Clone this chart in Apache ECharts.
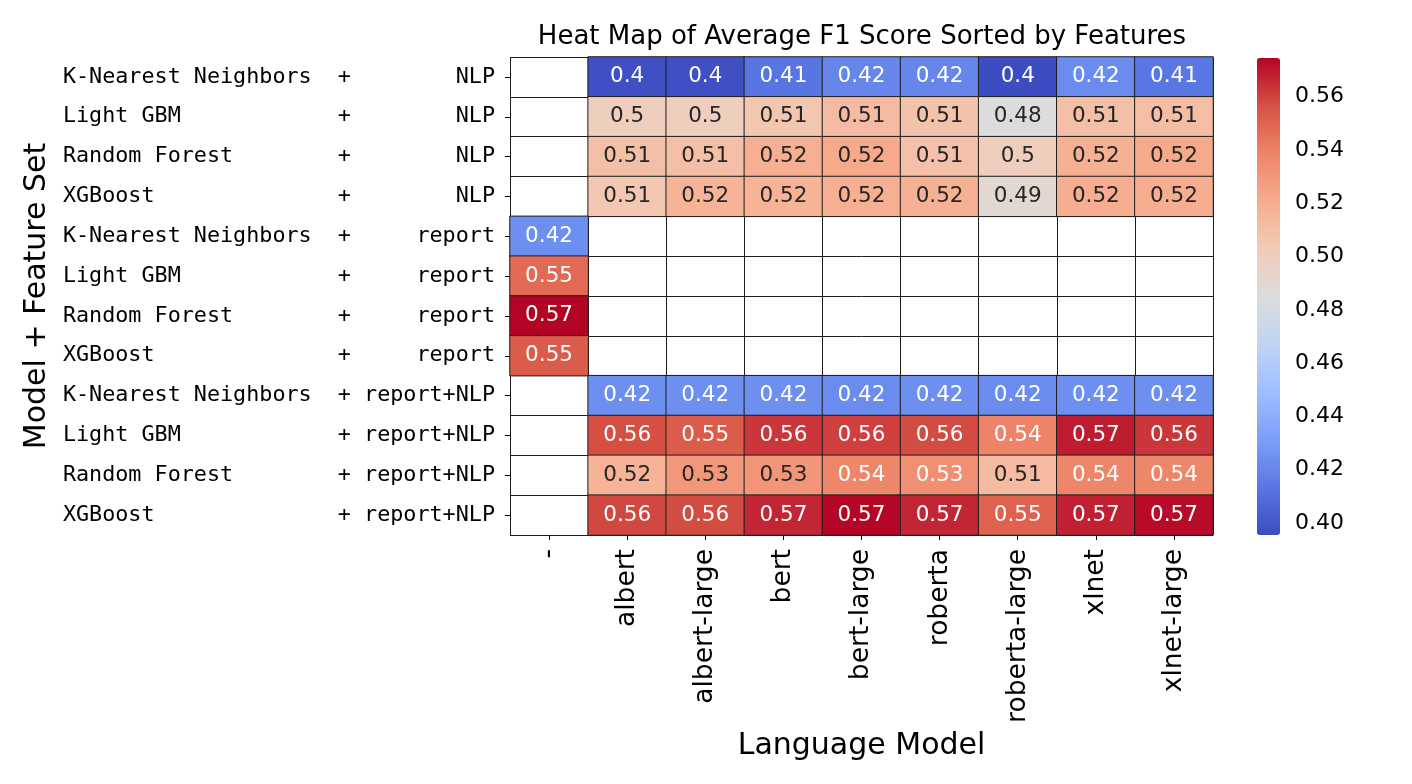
<!DOCTYPE html>
<html>
<head>
<meta charset="utf-8">
<script src="https://cdn.jsdelivr.net/npm/echarts@6/dist/echarts.min.js"></script>
<style>
  html, body { margin: 0; padding: 0; background: #ffffff; }
  #chart { width: 1412px; height: 784px; }
</style>
</head>
<body>
<div id="chart"></div>
<script>
// ---------------- data ----------------
const languageModels = ['-', 'albert', 'albert-large', 'bert', 'bert-large', 'roberta', 'roberta-large', 'xlnet', 'xlnet-large'];
const modelNames = ['K-Nearest Neighbors', 'Light GBM', 'Random Forest', 'XGBoost',
                    'K-Nearest Neighbors', 'Light GBM', 'Random Forest', 'XGBoost',
                    'K-Nearest Neighbors', 'Light GBM', 'Random Forest', 'XGBoost'];
const featureSets = ['NLP', 'NLP', 'NLP', 'NLP',
                     'report', 'report', 'report', 'report',
                     'report+NLP', 'report+NLP', 'report+NLP', 'report+NLP'];

// values per row, in languageModels order (null = no value)
const knnNLP        = [null, 0.397, 0.397, 0.413, 0.420, 0.420, 0.396, 0.423, 0.414];
const lgbmNLP       = [null, 0.500, 0.500, 0.506, 0.512, 0.508, 0.485, 0.510, 0.511];
const rfNLP         = [null, 0.510, 0.510, 0.519, 0.522, 0.509, 0.500, 0.518, 0.522];
const xgbNLP        = [null, 0.505, 0.517, 0.517, 0.519, 0.518, 0.490, 0.520, 0.520];
const knnReport     = [0.424, null, null, null, null, null, null, null, null];
const lgbmReport    = [0.548, null, null, null, null, null, null, null, null];
const rfReport      = [0.5745, null, null, null, null, null, null, null, null];
const xgbReport     = [0.553, null, null, null, null, null, null, null, null];
const knnReportNLP  = [null, 0.424, 0.424, 0.424, 0.423, 0.424, 0.423, 0.424, 0.424];
const lgbmReportNLP = [null, 0.557, 0.553, 0.563, 0.561, 0.558, 0.539, 0.569, 0.563];
const rfReportNLP   = [null, 0.517, 0.530, 0.531, 0.538, 0.534, 0.513, 0.538, 0.538];
const xgbReportNLP  = [null, 0.559, 0.558, 0.567, 0.5740, 0.567, 0.551, 0.568, 0.573];

const rowValues = [knnNLP, lgbmNLP, rfNLP, xgbNLP,
                   knnReport, lgbmReport, rfReport, xgbReport,
                   knnReportNLP, lgbmReportNLP, rfReportNLP, xgbReportNLP];

const colorbarTicks = [0.40, 0.42, 0.44, 0.46, 0.48, 0.50, 0.52, 0.54, 0.56];
const scaleMin = 0.3955;
const scaleMax = 0.5745;

// ---------------- styling helpers ----------------
const coolwarm = ['#3b4cc0', '#5977e3', '#7b9ff9', '#9ebeff', '#c0d4f5', '#dddcdc',
                  '#f2cbb7', '#f7ac8e', '#ee8468', '#d65244', '#b40426'];

function hexToRgb(h) {
  return [parseInt(h.slice(1, 3), 16), parseInt(h.slice(3, 5), 16), parseInt(h.slice(5, 7), 16)];
}
function colorAt(v) {
  let t = (v - scaleMin) / (scaleMax - scaleMin);
  t = Math.max(0, Math.min(1, t));
  const p = t * (coolwarm.length - 1);
  const i = Math.min(Math.floor(p), coolwarm.length - 2);
  const f = p - i;
  const a = hexToRgb(coolwarm[i]), b = hexToRgb(coolwarm[i + 1]);
  return [0, 1, 2].map(k => a[k] + (b[k] - a[k]) * f);
}
function luminance(rgb) {
  const lin = rgb.map(c => {
    c = c / 255;
    return c <= 0.03928 ? c / 12.92 : Math.pow((c + 0.055) / 1.055, 2.4);
  });
  return 0.2126 * lin[0] + 0.7152 * lin[1] + 0.0722 * lin[2];
}

const rowLabels = modelNames.map((m, i) => m.padEnd(21, ' ') + '+' + featureSets[i].padStart(11, ' '));

const cells = [];
rowValues.forEach((row, y) => {
  row.forEach((v, x) => {
    if (v === null) return;
    const lum = luminance(colorAt(v));
    cells.push({
      value: [x, y, v],
      label: { color: lum > 0.408 ? '#262626' : '#ffffff' }
    });
  });
});

const chart = echarts.init(document.getElementById('chart'), null, { renderer: 'canvas' });

const option = {
  backgroundColor: '#ffffff',
  animation: false,
  title: {
    text: 'Heat Map of Average F1 Score Sorted by Features',
    left: 862,
    top: 24,
    padding: 0,
    textAlign: 'center',
    textStyle: { fontFamily: 'DejaVu Sans', fontSize: 26, fontWeight: 'normal', color: '#000000' }
  },
  grid: [
    { left: 510, top: 57, width: 703, height: 478 },
    { left: 1257, top: 58, width: 23, height: 477 }
  ],
  xAxis: [
    {
      type: 'category',
      gridIndex: 0,
      data: languageModels,
      position: 'bottom',
      name: 'Language Model',
      nameLocation: 'middle',
      nameGap: 196,
      nameTextStyle: { fontFamily: 'DejaVu Sans', fontSize: 30, color: '#000000' },
      axisLine: { show: false },
      axisTick: { show: true, alignWithLabel: true, length: 5, lineStyle: { color: '#000000', width: 1 } },
      axisLabel: { rotate: 90, margin: 14, fontFamily: 'DejaVu Sans', fontSize: 26.5, color: '#000000', interval: 0 },
      splitLine: { show: true, lineStyle: { color: '#1e1e1e', width: 1 } }
    },
    { type: 'value', gridIndex: 1, show: false, min: 0, max: 1 }
  ],
  yAxis: [
    {
      type: 'category',
      gridIndex: 0,
      data: rowLabels,
      inverse: true,
      name: 'Model + Feature Set',
      nameLocation: 'middle',
      nameGap: 458,
      nameTextStyle: { fontFamily: 'DejaVu Sans', fontSize: 30, color: '#000000' },
      axisLine: { show: false },
      axisTick: { show: true, alignWithLabel: true, length: 5, lineStyle: { color: '#000000', width: 1 } },
      axisLabel: { margin: 15, fontFamily: 'DejaVu Sans Mono', fontSize: 21.75, color: '#000000', interval: 0 },
      splitLine: { show: true, lineStyle: { color: '#1e1e1e', width: 1 } }
    },
    {
      type: 'value',
      gridIndex: 1,
      position: 'right',
      min: scaleMin,
      max: scaleMax,
      axisLine: { show: false },
      splitLine: { show: false },
      axisTick: { show: true, length: 5, customValues: colorbarTicks, lineStyle: { color: '#000000', width: 1 } },
      axisLabel: {
        show: true, margin: 15, customValues: colorbarTicks,
        fontFamily: 'DejaVu Sans', fontSize: 22, color: '#000000',
        formatter: v => Number(v).toFixed(2)
      }
    }
  ],
  visualMap: {
    type: 'continuous',
    seriesIndex: 0,
    min: scaleMin,
    max: scaleMax,
    calculable: false,
    hoverLink: false,
    realtime: false,
    orient: 'vertical',
    left: 1257,
    top: 58,
    padding: 0,
    itemWidth: 23,
    itemHeight: 477,
    text: ['', ''],
    showLabel: false,
    inRange: { color: coolwarm }
  },
  series: [
    {
      type: 'heatmap',
      xAxisIndex: 0,
      yAxisIndex: 0,
      data: cells,
      itemStyle: { borderColor: '#1e1e1e', borderWidth: 1 },
      label: {
        show: true,
        fontFamily: 'DejaVu Sans',
        fontSize: 21.5,
        formatter: p => String(Number(p.value[2].toPrecision(2)))
      },
      emphasis: { disabled: true }
    }
  ]
};

chart.setOption(option);
</script>
</body>
</html>
